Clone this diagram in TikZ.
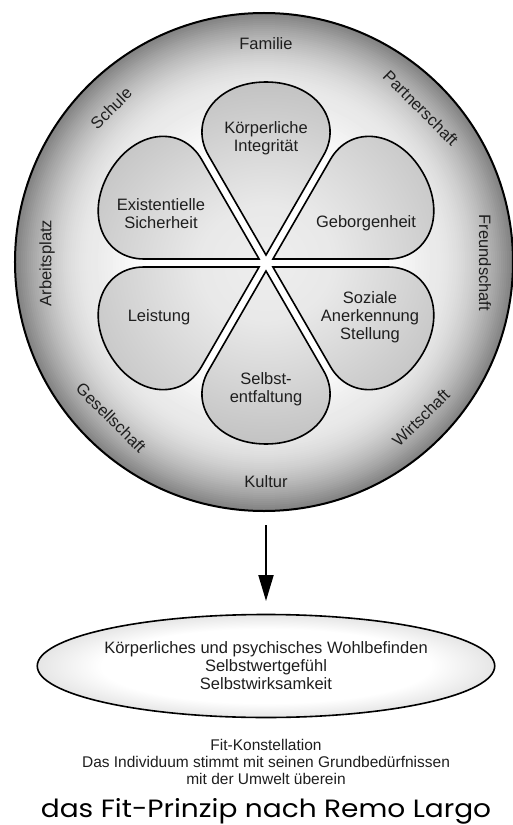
\documentclass[tikz,border=0pt]{standalone}
\usepackage{fontspec}
\setmainfont{Liberation Sans}
\newfontfamily\titlefont[FakeStretch=1.12]{Poppins}
\usetikzlibrary{arrows.meta,shapes.geometric}
\definecolor{ringmid}{HTML}{EAEAEA}
\definecolor{ringedge}{HTML}{828282}
\definecolor{petalin}{HTML}{EEEEEE}
\definecolor{petalmid}{HTML}{B6B6B6}
\definecolor{petalout}{HTML}{969696}
\definecolor{ellout}{HTML}{8A8A8A}
\definecolor{txt}{HTML}{1E1E1E}
\pgfdeclareradialshading{petalshade}{\pgfpoint{0bp}{0bp}}{color(0bp)=(petalin); color(8bp)=(petalin!90!petalmid); color(30bp)=(petalmid); color(50bp)=(petalout); color(72bp)=(petalout)}
\pgfdeclareradialshading{ellshade}{\pgfpoint{0bp}{0bp}}{color(0bp)=(white); color(18bp)=(white); color(50bp)=(ellout); color(72bp)=(ellout)}
\def\petalpath{(8,0) -- (107.6,-57.5) .. controls (142.2,-77.5) and (181,-50) .. (181,0) .. controls (181,50) and (142.2,77.5) .. (107.6,57.5) -- cycle}
\begin{document}
\begin{tikzpicture}[x=1pt,y=1pt,
  lbl/.style={font=\fontsize{16.5}{18}\selectfont, text=txt, align=center},
  capt/.style={font=\fontsize{15.5}{17}\selectfont, text=txt, align=center},
  petalline/.style={line width=1.6pt, draw=black}]
\useasboundingbox (-266,263) rectangle (246,-562);
\coordinate (cc) at (-2,1);
% ring gradient: grey at the rim, white towards the middle
\foreach \r in {249,247,...,171}{
  \pgfmathsetmacro{\p}{100*((\r-170)/79)^1.8}
  \fill[ringedge!\p!ringmid] (cc) circle (\r);
}
\foreach \r in {169,166,...,118}{
  \pgfmathsetmacro{\p}{max(0,(\r-118)/52*100)}
  \fill[ringmid!\p!white] (cc) circle (\r);
}
\node[circle, minimum size=498pt, inner sep=0pt, draw, line width=2pt] (circ) at (cc) {};
\foreach \a in {90,30,-30,-90,-150,150}{
  \begin{scope}[rotate=\a]
    \begin{scope}
      \clip \petalpath;
      \shade[shading=petalshade] (0,0) circle (185);
    \end{scope}
    \draw[petalline] \petalpath;
  \end{scope}
}
\foreach \ang/\txt/\rot/\nm in {90/Familie/0/fam, 45/Partnerschaft/-45/par, 0/Freundschaft/-90/fre, -45/Wirtschaft/45/wir, -90/Kultur/0/kul, -135/Gesellschaft/-45/ges, 180/Arbeitsplatz/90/arb, 135/Schule/45/sch}{
  \node[lbl, rotate=\rot] (\nm) at (\ang:219) {\txt};
}
\node[lbl] (koe) at (0,125) {Körperliche\\Integrität};
\node[lbl] (exi) at (-105,49) {Existentielle\\Sicherheit};
\node[lbl] (geb) at (100,40) {Geborgenheit};
\node[lbl] (lei) at (-107,-54) {Leistung};
\node[lbl] (soz) at (104,-54) {Soziale\\Anerkennung\\Stellung};
\node[lbl] (sel) at (0,-126) {Selbst-\\entfaltung};
\node[ellipse, minimum width=406pt, minimum height=103pt, inner sep=0pt, draw, line width=1.6pt, shade, shading=ellshade, lbl] (ell) at (0,-403) {Körperliches und psychisches Wohlbefinden\\Selbstwertgefühl\\Selbstwirksamkeit};
\draw[line width=2pt, -{Triangle[width=15pt,length=26pt]}, shorten <=13pt, shorten >=12.7pt] (circ.south -| ell.north) -- (ell.north);
\node[capt] (fit) at (0,-499) {Fit-Konstellation\\Das Individuum stimmt mit seinen Grundbedürfnissen\\mit der Umwelt überein};
\node[font=\titlefont\fontsize{25}{29}\selectfont, text=black, inner sep=0pt] (title) at (0,-548) {das Fit-Prinzip nach Remo Largo};
\end{tikzpicture}
\end{document}
